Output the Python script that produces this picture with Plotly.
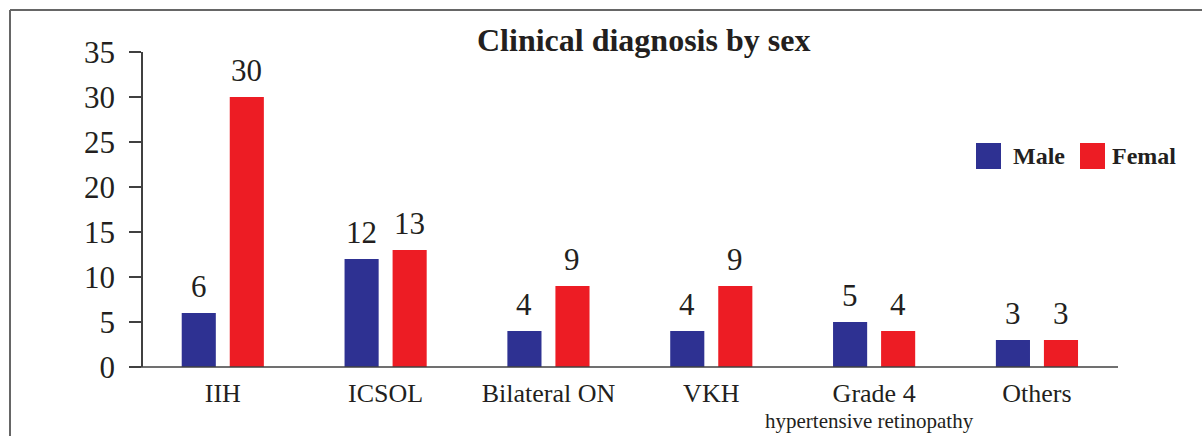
import plotly.graph_objects as go

# ---- data ----
categories = ["IIH", "ICSOL", "Bilateral ON", "VKH", "Grade 4", "Others"]
tick_labels = ["IIH", "ICSOL", "Bilateral ON", "VKH", "Grade 4", "Others"]
sub_label_category = "Grade 4"
sub_label_text = "hypertensive retinopathy"
male = [6, 12, 4, 4, 5, 3]
female = [30, 13, 9, 9, 4, 3]
y_ticks = [0, 5, 10, 15, 20, 25, 30, 35]

MALE_C = "#2E3192"
FEM_C = "#ED1C24"
TXT = "#231F20"
FONT = "Liberation Serif, Times New Roman, serif"

W, H = 1202, 436
L, R, T, B = 143, 1120, 52, 367
PW, PH = R - L, B - T


def px(x):
    return (x - L) / PW


def py(y):
    return (B - y) / PH


fig = go.Figure()
fig.add_trace(go.Bar(
    x=categories, y=male, name="Male", marker=dict(color=MALE_C, line=dict(width=0)),
))
fig.add_trace(go.Bar(
    x=categories, y=female, name="Femal", marker=dict(color=FEM_C, line=dict(width=0)),
))

fig.update_layout(
    width=W, height=H,
    margin=dict(l=L, r=W - R, t=T, b=H - B, pad=0, autoexpand=False),
    paper_bgcolor="white", plot_bgcolor="white",
    barmode="group", bargap=0.41, bargroupgap=0.29,
    showlegend=False,
    font=dict(family=FONT, color=TXT),
)
fig.update_xaxes(
    range=[-0.49, 5.51], tickmode="array", tickvals=categories, ticktext=tick_labels,
    showline=False, showgrid=False, ticks="", zeroline=False, automargin=False,
    tickfont=dict(family=FONT, size=26, color=TXT), ticklabelstandoff=8,
)
fig.update_yaxes(
    range=[0, 35], tickvals=y_ticks, showgrid=False, zeroline=False, automargin=False,
    showline=True, linecolor="#404040", linewidth=1.5,
    ticks="outside", ticklen=12, tickwidth=1.5, tickcolor="#404040",
    tickfont=dict(family=FONT, size=31, color=TXT), ticklabelstandoff=8,
)

shapes = [
    dict(type="line", xref="paper", yref="paper", x0=px(131), x1=px(1118), y0=0, y1=0,
         line=dict(color="#404040", width=1.5)),
    dict(type="line", xref="paper", yref="paper", x0=px(10), x1=px(1202), y0=py(10), y1=py(10),
         line=dict(color="#666666", width=2)),
    dict(type="line", xref="paper", yref="paper", x0=px(10), x1=px(10), y0=py(10), y1=py(436),
         line=dict(color="#666666", width=2)),
    dict(type="rect", xref="paper", yref="paper", x0=px(976), x1=px(1001), y0=py(169), y1=py(143),
         fillcolor=MALE_C, line=dict(width=0)),
    dict(type="rect", xref="paper", yref="paper", x0=px(1080), x1=px(1105), y0=py(169), y1=py(143),
         fillcolor=FEM_C, line=dict(width=0)),
]
fig.update_layout(shapes=shapes)

annotations = [
    dict(text="<b>Clinical diagnosis by sex</b>", xref="paper", yref="paper",
         x=px(643), y=py(40), xanchor="center", yanchor="middle", showarrow=False,
         font=dict(family=FONT, size=32, color=TXT)),
    dict(text="<b>Male</b>", xref="paper", yref="paper", x=px(1011), y=py(156),
         xanchor="left", yanchor="middle", showarrow=False,
         font=dict(family=FONT, size=24, color=TXT)),
    dict(text="<b>Femal</b>", xref="paper", yref="paper", x=px(1110), y=py(156),
         xanchor="left", yanchor="middle", showarrow=False,
         font=dict(family=FONT, size=24, color=TXT)),
    dict(text=sub_label_text, xref="x", yref="paper", x=sub_label_category, y=py(421),
         xshift=-5, xanchor="center", yanchor="middle", showarrow=False,
         font=dict(family=FONT, size=21, color=TXT)),
]
# value labels above bars
for cat, m, f in zip(categories, male, female):
    for val, shift in ((m, -24), (f, 24)):
        annotations.append(dict(
            text=str(val), xref="x", yref="y", x=cat, y=val, xshift=shift, yshift=7,
            xanchor="center", yanchor="bottom", showarrow=False,
            font=dict(family=FONT, size=31, color=TXT)))
fig.update_layout(annotations=annotations)

fig.write_html("out.html", config={"displayModeBar": False},
               post_script="document.body.style.margin='0';")
